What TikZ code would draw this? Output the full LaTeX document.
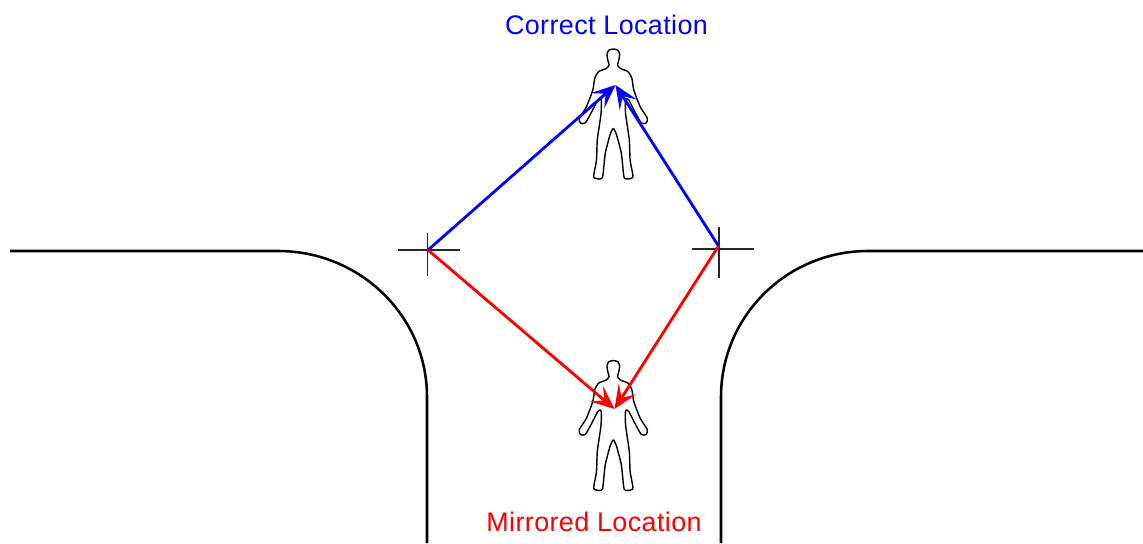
\documentclass[tikz,border=0pt]{standalone}
\usepackage{fontspec}
\setmainfont{Liberation Sans}[LetterSpace=1.5]
\usetikzlibrary{arrows.meta}
\tikzset{
 road/.style={line width=1.45pt,black},
 tick/.style={line width=0.7pt,black!85},
 body/.style={line width=0.8pt,black,line join=round},
 ray/.style={line width=1.6pt,-{Stealth[length=13.5pt,width=11.5pt,inset=6pt]}},
 lbl/.style={font=\fontsize{15.3pt}{18pt}\selectfont,inner sep=0pt},
 person/.pic={
  \draw[body] plot[smooth cycle,tension=0.35] coordinates {
   (0,0)(4.5,1.2)(6.3,5)(5.6,11)(4.2,16)(7,19.5)(14.5,22.5)(18.5,29)(20.5,41)(27,58)(34,69)(33,74)(28,74)(21.7,63)(15.5,51)(13,49.5)(12,52)(12.3,65)(16,91)(16.8,111)(19.5,125.5)(19,129)(14,130)(11,129)(10,123)(8,104)(3,85)(0,79.5)
   (-3,85)(-8,104)(-10,123)(-11,129)(-14,130)(-19,129)(-19.5,125.5)(-16.8,111)(-16,91)(-12.3,65)(-12,52)(-13,49.5)(-15.5,51)(-21.7,63)(-28,74)(-33,74)(-34,69)(-27,58)(-20.5,41)(-18.5,29)(-14.5,22.5)(-7,19.5)(-4.2,16)(-5.6,11)(-6.3,5)(-4.5,1.2)};
 }
}
\begin{document}
\begin{tikzpicture}[x=0.02cm,y=-0.02cm]
\useasboundingbox (0,0) rectangle (1143,544);
% road edges
\draw[road] (10,251) -- (278,251) .. controls (360,251) and (427,316) .. (427,397) -- (427,543);
\draw[road] (1143,251) -- (868,251) .. controls (787,251) and (721,316) .. (721,397) -- (721,543);
% sensor positions
\coordinate (sl) at (428,250);
\coordinate (sr) at (718.5,246);
\coordinate (tc) at (615.5,85);
\coordinate (tm) at (614.5,409);
\draw[tick] (398,250) -- (460,250);
\draw[tick] (427.5,233) -- (427.5,276);
\draw[tick] (692,249) -- (754,249);
\draw[tick] (719,227) -- (719,278);
% people
\pic at (613.3,49) {person};
\pic at (613.3,360.5) {person};
% rays
\draw[ray,blue] (sl) -- (tc);
\draw[ray,blue] (sr) -- (tc);
\draw[ray,red] (sl) -- (tm);
\draw[ray,red] (sr) -- (tm);
% labels
\node[lbl,blue] (correct) at (606.5,25) {Correct Location};
\node[lbl,red] (mirror) at (594,522) {Mirrored Location};
\end{tikzpicture}
\end{document}
